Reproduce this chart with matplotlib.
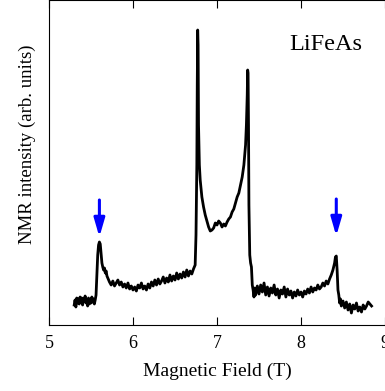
import matplotlib
matplotlib.use('Agg')
import matplotlib.pyplot as plt

plt.rcParams['font.family'] = ['Liberation Serif', 'DejaVu Serif']

# campo magnetico (T) e intensidad NMR (unidades arbitrarias)
field = [5.30, 5.31, 5.32, 5.33, 5.34, 5.35, 5.36, 5.37, 5.38, 5.39, 5.40, 5.41, 5.42, 5.43,
         5.44, 5.45, 5.46, 5.47, 5.48, 5.49, 5.50, 5.51, 5.52, 5.53, 5.54, 5.55, 5.56,
         5.57, 5.58, 5.59, 5.60, 5.61, 5.62, 5.63, 5.64, 5.65, 5.66, 5.67, 5.68, 5.69, 5.70,
         5.72, 5.74, 5.76, 5.78, 5.80, 5.82, 5.84, 5.86, 5.88, 5.90, 5.92, 5.94, 5.96, 5.98,
         6.00, 6.02, 6.04, 6.06, 6.08, 6.10, 6.12, 6.14, 6.16, 6.18, 6.20, 6.22, 6.24, 6.26,
         6.28, 6.30, 6.32, 6.34, 6.36, 6.38, 6.40, 6.42, 6.44, 6.46, 6.48, 6.50, 6.52, 6.54,
         6.56, 6.58, 6.60, 6.62, 6.64, 6.66, 6.68, 6.70, 6.72, 6.74, 6.75, 6.76, 6.765, 6.77,
         6.775, 6.78, 6.79, 6.80, 6.82, 6.84, 6.86, 6.88, 6.90, 6.92, 6.94, 6.96, 6.98, 7.00,
         7.02, 7.04, 7.06, 7.08, 7.10, 7.12, 7.14, 7.16, 7.18, 7.20, 7.22, 7.24, 7.26, 7.28,
         7.30, 7.32, 7.34, 7.35, 7.36, 7.365, 7.37, 7.375, 7.38, 7.39, 7.40, 7.41, 7.42, 7.43,
         7.44, 7.45, 7.46, 7.48, 7.50, 7.52, 7.54, 7.56, 7.58, 7.60, 7.62, 7.64, 7.66, 7.68,
         7.70, 7.72, 7.74, 7.76, 7.78, 7.80, 7.82, 7.84, 7.86, 7.88, 7.90, 7.92, 7.94, 7.96,
         7.98, 8.00, 8.02, 8.04, 8.06, 8.08, 8.10, 8.12, 8.14, 8.16, 8.18, 8.20, 8.22, 8.24,
         8.26, 8.28, 8.30, 8.32, 8.34, 8.36, 8.38, 8.40, 8.41, 8.42, 8.43, 8.44, 8.45, 8.46,
         8.47, 8.48, 8.50, 8.52, 8.54, 8.56, 8.58, 8.60, 8.62, 8.64, 8.66, 8.68, 8.70, 8.72,
         8.74, 8.76, 8.78, 8.80, 8.82, 8.84]
intensity = [20, 25, 18, 27, 22, 26, 21, 28, 23, 27, 20, 26, 24, 29,
             22, 25, 19, 27, 21, 24, 22, 28, 23, 26, 21, 25, 30,
             50, 70, 80, 83, 81, 72, 62, 58, 55, 57, 52, 54, 49, 47,
             43, 40, 44, 39, 42, 45, 40, 43, 38, 41, 37, 42, 36, 39,
             35, 38, 34, 40, 37, 42, 36, 39, 35, 41, 37, 43, 39, 45,
             40, 46, 41, 44, 48, 42, 47, 43, 50, 44, 49, 45, 52, 46,
             51, 47, 53, 48, 55, 49, 54, 51, 56, 60, 90, 160, 240, 295,
             280, 200, 160, 145, 128, 118, 110, 104, 98, 94, 95, 97, 102, 100,
             104, 102, 98, 101, 99, 103, 106, 108, 113, 116, 122, 128, 132, 140,
             148, 160, 180, 200, 230, 255, 252, 200, 120, 70, 62, 58, 40, 35,
             28, 37, 30, 39, 31, 40, 33, 42, 30, 38, 29, 37, 32, 40,
             30, 36, 27, 35, 31, 38, 28, 36, 30, 34, 27, 33, 29, 35,
             30, 33, 28, 34, 31, 36, 32, 38, 33, 37, 35, 40, 36, 38,
             42, 39, 44, 41, 46, 50, 55, 62, 68, 69, 55, 35, 30, 22,
             26, 19, 24, 17, 23, 15, 21, 12, 20, 16, 22, 14, 18, 13,
             20, 16, 19, 23, 21, 19]

# posiciones de las flechas (satelites)
arrow_fields = [5.60, 8.42]
arrow_tops = [125, 126]
arrow_tips = [88, 89]

xticks = [5, 6, 7, 8, 9]

fig = plt.figure(figsize=(3.85, 3.91), dpi=100)
ax = fig.add_axes([49 / 385, 66 / 391, 336 / 385, 325 / 391])

ax.plot(field, intensity, color='black', lw=2.0)

for xf, top, tip in zip(arrow_fields, arrow_tops, arrow_tips):
    ax.annotate('', xy=(xf, tip), xytext=(xf, top),
                arrowprops=dict(arrowstyle='-|>,head_length=1.1,head_width=0.32',
                                color='blue', lw=2.2, mutation_scale=10,
                                shrinkA=0, shrinkB=0))

ax.text(7.86, 280, 'LiFeAs', fontsize=17.5, va='center', ha='left')

ax.set_xlim(5, 9)
ax.set_ylim(0, 325)
ax.set_xticks(xticks)
ax.set_yticks([])
ax.tick_params(axis='x', direction='in', length=6, top=True, labelsize=13, pad=7)
ax.spines['right'].set_visible(False)

ax.set_xlabel('Magnetic Field (T)', fontsize=14, labelpad=8)
ax.set_ylabel('NMR intensity (arb. units)', fontsize=13.5)
ax.yaxis.set_label_coords(-0.04, 0.555)

fig.savefig('out.png', dpi=100)
